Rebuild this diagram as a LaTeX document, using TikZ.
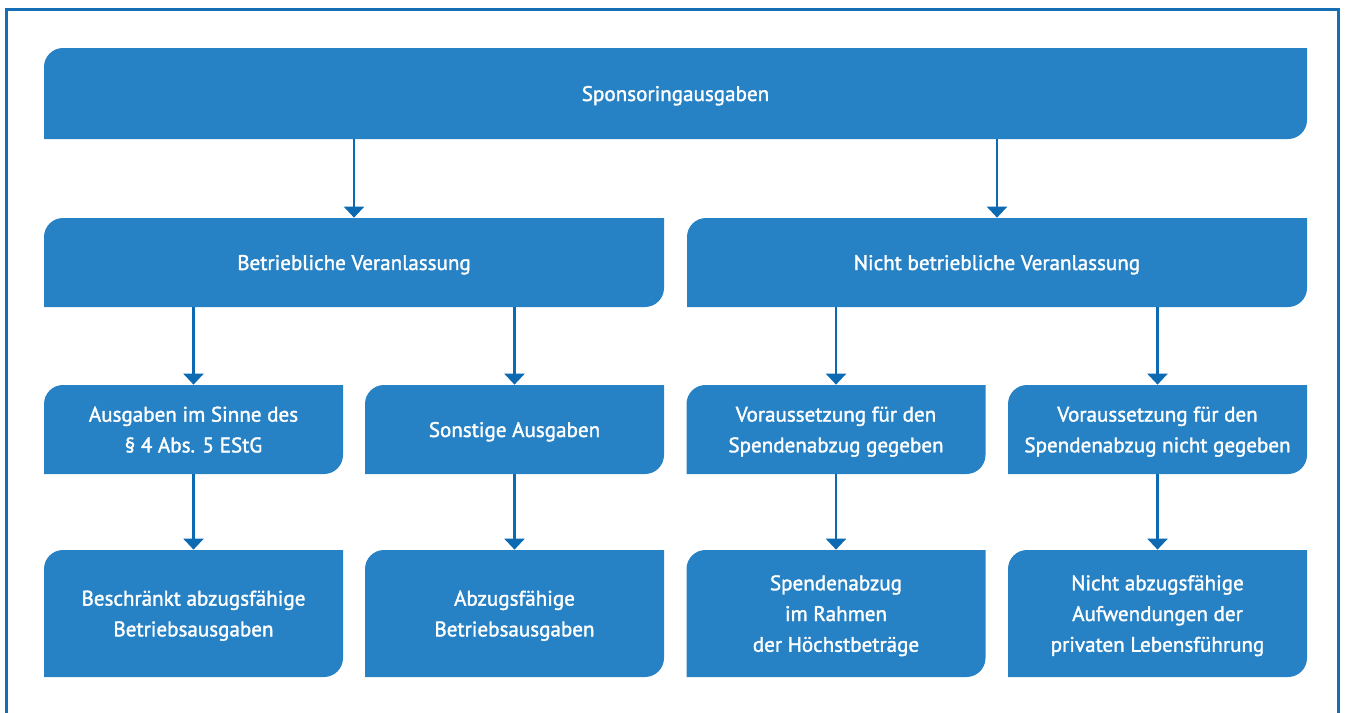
\documentclass[tikz,border=0pt]{standalone}
\usepackage{fontspec}
\setmainfont{PT Sans}
\newfontfamily\boxfont{PT Sans}[FakeBold=1.6]
\usetikzlibrary{arrows.meta}

\definecolor{boxblue}{RGB}{38,130,197}
\definecolor{arrowblue}{RGB}{12,106,178}
\definecolor{frameblue}{RGB}{22,110,182}
\newcommand{\leafr}{0.38cm}

\tikzset{
    leaf/.style={text=white, font=\boxfont\fontsize{12}{17.5}\selectfont, align=center, inner sep=0pt,
        text depth=-5pt, minimum width=5.98cm, minimum height=1.78cm,
        path picture={\fill[boxblue] (path picture bounding box.south west)
            -- ([yshift=-\leafr]path picture bounding box.north west)
            arc[start angle=180, end angle=90, radius=\leafr]
            -- (path picture bounding box.north east)
            -- ([yshift=\leafr]path picture bounding box.south east)
            arc[start angle=0, end angle=-90, radius=\leafr] -- cycle;}},
    down/.style={draw=arrowblue, line width=1.4pt, -{Triangle[width=0.4cm, length=0.22cm]}}
}

\begin{document}
\begin{tikzpicture}
    \useasboundingbox (0, 0) rectangle (26.96, -14.26);
    \draw[frameblue, line width=0.06cm] (0.13, -14.3) -- (0.13, -0.19) -- (26.76, -0.19) -- (26.76, -14.3);

    \node[leaf, minimum width=25.26cm, minimum height=1.82cm] (spons) at (13.51, -1.87) {Sponsoringausgaben};

    \node[leaf, minimum width=12.4cm] (betr) at (7.08, -5.25) {Betriebliche Veranlassung};
    \node[leaf, minimum width=12.4cm] (nbetr) at (19.94, -5.25) {Nicht betriebliche Veranlassung};

    \node[leaf] (par4) at (3.87, -8.59) {Ausgaben im Sinne des\\ § 4 Abs. 5 EStG};
    \node[leaf] (sonst) at (10.29, -8.59) {Sonstige Ausgaben};
    \node[leaf] (vorja) at (16.72, -8.59) {Voraussetzung für den\\ Spendenabzug gegeben};
    \node[leaf] (vornein) at (23.15, -8.59) {Voraussetzung für den\\ Spendenabzug nicht gegeben};

    \node[leaf, minimum height=2.54cm] (beschr) at (3.87, -12.27) {Beschränkt abzugsfähige\\ Betriebsausgaben};
    \node[leaf, minimum height=2.54cm] (abz) at (10.29, -12.27) {Abzugsfähige\\ Betriebsausgaben};
    \node[leaf, minimum height=2.54cm] (hoechst) at (16.72, -12.27) {Spendenabzug\\ im Rahmen\\ der Höchstbeträge};
    \node[leaf, minimum height=2.54cm] (privat) at (23.15, -12.27) {Nicht abzugsfähige\\ Aufwendungen der\\ privaten Lebensführung};

    \foreach \b in {betr, nbetr}
        \draw[down] (spons.south -| \b) -- (\b.north);
    \foreach \a/\b in {betr/par4, betr/sonst, nbetr/vorja, nbetr/vornein}
        \draw[down] (\a.south -| \b) -- (\b.north);
    \foreach \a/\b in {par4/beschr, sonst/abz, vorja/hoechst, vornein/privat}
        \draw[down] (\a) -- (\b);
\end{tikzpicture}
\end{document}
